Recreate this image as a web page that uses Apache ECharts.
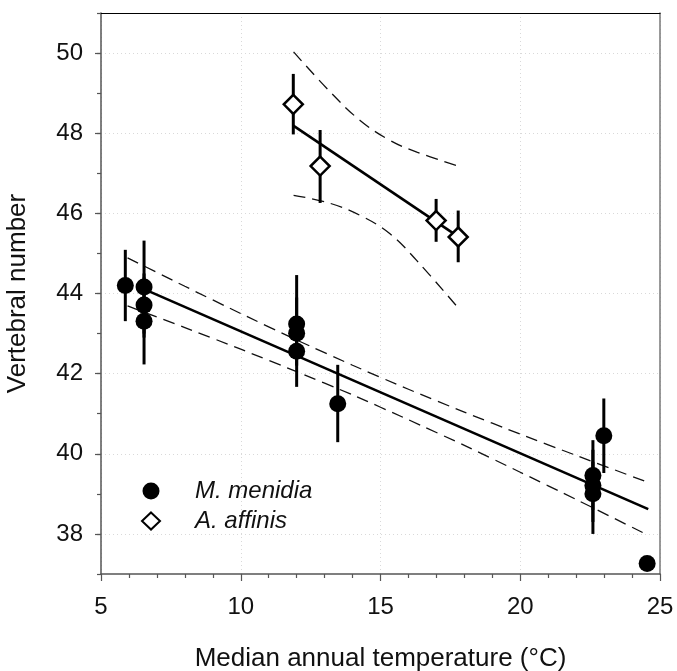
<!DOCTYPE html>
<html>
<head>
<meta charset="utf-8">
<script src="https://cdn.jsdelivr.net/npm/echarts@6/dist/echarts.min.js"></script>
<style>
  html, body { margin: 0; padding: 0; background: #fff; }
  #chart { width: 677px; height: 671px; }
</style>
</head>
<body>
<div id="chart"></div>
<script>
// Menidia menidia: median annual temperature (°C), mean vertebral number, error-bar limits
const menidiaTemp = [5.87, 6.54, 6.54, 6.54, 12.0, 12.0, 12.0, 13.47, 22.6, 22.6, 22.6, 22.99, 24.54];
const menidiaVert = [44.20, 44.16, 43.71, 43.31, 43.24, 43.01, 42.56, 41.25, 39.46, 39.21, 39.00, 40.45, 37.26];
const menidiaLow  = [43.31, 43.00, 42.90, 42.23, 42.40, 42.20, 41.67, 40.29, 38.60, 38.30, 38.00, 39.52, null];
const menidiaHigh = [45.09, 45.32, 44.50, 44.40, 44.46, 43.90, 43.40, 42.22, 40.34, 40.10, 39.80, 41.38, null];

// Atherinops affinis
const affinisTemp = [11.88, 12.84, 16.99, 17.78];
const affinisVert = [48.72, 47.18, 45.82, 45.41];
const affinisLow  = [47.97, 46.26, 45.29, 44.78];
const affinisHigh = [49.48, 48.08, 46.36, 46.07];

// Fitted regression lines
const menidiaFitX = [6.6, 24.58];
const menidiaFitY = [44.09, 38.62];
const affinisFitX = [11.88, 17.78];
const affinisFitY = [48.19, 45.42];

// 95% confidence bands
const menidiaBandX  = [5.95, 8, 10, 12, 14, 16, 18, 20, 22, 24.48];
const menidiaBandHi = [44.89, 44.18, 43.50, 42.84, 42.21, 41.61, 41.04, 40.49, 39.96, 39.31];
const menidiaBandLo = [43.69, 43.15, 42.61, 42.05, 41.47, 40.85, 40.21, 39.54, 38.86, 38.00];
const affinisBandX  = [11.89, 13.2, 14.27, 15.34, 16.3, 17.78];
const affinisBandHi = [50.03, 49.03, 48.32, 47.82, 47.53, 47.18];
const affinisBandLo = [46.45, 46.25, 45.95, 45.49, 44.82, 43.64];

// Axis ticks
const xTicks = [5, 10, 15, 20, 25];
const yTicks = [38, 40, 42, 44, 46, 48, 50];

const FONT = '"Liberation Sans", Arial, Helvetica, sans-serif';
const AXIS_COLOR = '#555';
const GRID_COLOR = '#d9d9d9';

const zip = (xs, ys) => xs.map((x, i) => [x, ys[i]]);
const bars = (xs, lo, hi) => xs.map((x, i) => [x, lo[i], hi[i]]).filter(d => d[1] != null);

function errorBar(params, api) {
  const x = api.value(0);
  const p1 = api.coord([x, api.value(1)]);
  const p2 = api.coord([x, api.value(2)]);
  return {
    type: 'line',
    shape: { x1: p1[0], y1: p1[1], x2: p2[0], y2: p2[1] },
    style: { stroke: '#000', lineWidth: 3 }
  };
}

function dashed(data, smooth) {
  return {
    type: 'line', data: data, symbol: 'none', silent: true, smooth: smooth, z: 2,
    lineStyle: { color: '#111', width: 1.3, type: [12, 7] }
  };
}

function solid(data) {
  return {
    type: 'line', data: data, symbol: 'none', silent: true, z: 3,
    lineStyle: { color: '#000', width: 2.6 }
  };
}

const chart = echarts.init(document.getElementById('chart'), null, { renderer: 'canvas' });

chart.setOption({
  animation: false,
  backgroundColor: '#fff',
  textStyle: { fontFamily: FONT },
  grid: { left: 101, right: 17, top: 13, bottom: 97, outerBoundsMode: 'none', containLabel: false },
  legend: {
    data: ['M. menidia', 'A. affinis'],
    orient: 'vertical',
    left: 136,
    top: 474,
    itemWidth: 18,
    itemHeight: 17,
    itemGap: 6,
    textStyle: { fontFamily: FONT, fontSize: 24, fontStyle: 'italic', color: '#111', padding: [0, 0, 0, 30] }
  },
  xAxis: [
    {
      type: 'value', min: 5, max: 25, interval: 5, position: 'bottom',
      name: 'Median annual temperature (°C)',
      nameLocation: 'middle', nameGap: 72,
      nameTextStyle: { fontFamily: FONT, fontSize: 26, color: '#111' },
      axisLine: { onZero: false, lineStyle: { color: AXIS_COLOR, width: 1.5 } },
      axisTick: { length: 7, lineStyle: { color: AXIS_COLOR, width: 1.2 } },
      minorTick: { show: true, splitNumber: 5, length: 4, lineStyle: { color: AXIS_COLOR, width: 1.2 } },
      axisLabel: { fontFamily: FONT, fontSize: 24, color: '#111', margin: 21, customValues: xTicks },
      splitLine: { show: true, lineStyle: { color: GRID_COLOR, type: [1, 3], width: 1 } }
    },
    {
      type: 'value', min: 5, max: 25, position: 'top',
      axisLine: { onZero: false, lineStyle: { color: '#000', width: 1.2 } },
      axisTick: { show: false }, axisLabel: { show: false }, splitLine: { show: false }
    }
  ],
  yAxis: [
    {
      type: 'value', min: 37, max: 51, interval: 1, position: 'left',
      name: 'Vertebral number',
      nameLocation: 'middle', nameGap: 70,
      nameTextStyle: { fontFamily: FONT, fontSize: 26, color: '#111' },
      axisLine: { onZero: false, lineStyle: { color: AXIS_COLOR, width: 1.5 } },
      axisTick: { length: 6, customValues: yTicks, lineStyle: { color: AXIS_COLOR, width: 1.2 } },
      axisLabel: { fontFamily: FONT, fontSize: 24, color: '#111', margin: 18, customValues: yTicks },
      splitLine: { show: true, lineStyle: { color: GRID_COLOR, type: [1, 3], width: 1 } }
    },
    {
      type: 'value', min: 37, max: 51, interval: 1, position: 'left',
      axisLine: { show: false },
      axisTick: { length: 4, lineStyle: { color: AXIS_COLOR, width: 1.2 } },
      axisLabel: { show: false }, splitLine: { show: false }
    },
    {
      type: 'value', min: 37, max: 51, position: 'right',
      axisLine: { onZero: false, lineStyle: { color: '#777', width: 1.5 } },
      axisTick: { show: false }, axisLabel: { show: false }, splitLine: { show: false }
    }
  ],
  series: [
    dashed(zip(menidiaBandX, menidiaBandHi), 0.2),
    dashed(zip(menidiaBandX, menidiaBandLo), 0.2),
    dashed(zip(affinisBandX, affinisBandHi), 0.4),
    dashed(zip(affinisBandX, affinisBandLo), 0.4),
    solid(zip(menidiaFitX, menidiaFitY)),
    solid(zip(affinisFitX, affinisFitY)),
    {
      type: 'custom', renderItem: errorBar, silent: true, z: 4,
      encode: { x: 0, y: [1, 2] },
      data: bars(menidiaTemp, menidiaLow, menidiaHigh)
    },
    {
      type: 'custom', renderItem: errorBar, silent: true, z: 4,
      encode: { x: 0, y: [1, 2] },
      data: bars(affinisTemp, affinisLow, affinisHigh)
    },
    {
      name: 'M. menidia', type: 'scatter', z: 5,
      symbol: 'circle', symbolSize: 17,
      itemStyle: { color: '#000', opacity: 1 },
      data: zip(menidiaTemp, menidiaVert)
    },
    {
      name: 'A. affinis', type: 'scatter', z: 6,
      symbol: 'diamond', symbolSize: [19, 19],
      itemStyle: { color: '#fff', borderColor: '#000', borderWidth: 2.5, opacity: 1 },
      data: zip(affinisTemp, affinisVert)
    }
  ]
});
</script>
</body>
</html>
